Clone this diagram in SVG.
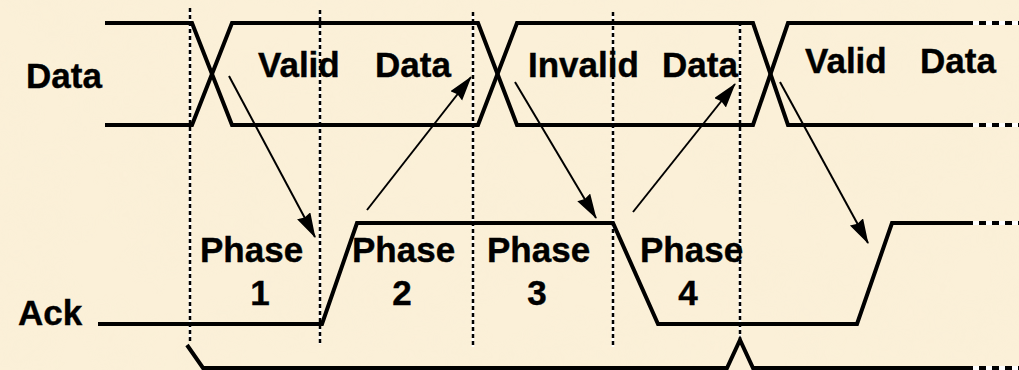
<svg xmlns="http://www.w3.org/2000/svg" width="1019" height="370" viewBox="0 0 1019 370">
  <style>
    .sig { fill: none; stroke: #000; stroke-width: 4; stroke-linejoin: miter; }
    .sigtail { fill: none; stroke: #fff; stroke-width: 4; }
    .sigdash { fill: none; stroke: #000; stroke-width: 4; stroke-dasharray: 7 6; }
    .grid { fill: none; stroke: #fff; stroke-width: 2.5; }
    .griddash { fill: none; stroke: #000; stroke-width: 2.5; stroke-dasharray: 4 3; }
    .arrow { fill: none; stroke: #000; stroke-width: 2; marker-end: url(#head); }
    .lbl { font-family: "Liberation Sans", Arial, sans-serif; font-weight: bold; font-size: 35px; fill: #000; stroke: #000; stroke-width: 0.4; }
  </style>
  <defs>
    <marker id="head" markerUnits="userSpaceOnUse" markerWidth="27" markerHeight="17" refX="24" refY="7.5" orient="auto">
      <path d="M0,0 L25,7.5 L0,15 L2,7.5 z" fill="#000"/>
    </marker>
    <filter id="parchment" x="0" y="0" width="100%" height="100%">
      <feTurbulence type="fractalNoise" baseFrequency="0.015" numOctaves="4" seed="7" result="n"/>
      <feColorMatrix in="n" type="matrix" values="0 0 0 0 0.93  0 0 0 0 0.85  0 0 0 0 0.66  0 0 0 0.5 -0.18"/>
    </filter>
  </defs>

  <!-- background -->
  <rect width="1019" height="370" fill="#FBF0D8"/>
  <rect width="1019" height="370" filter="url(#parchment)" opacity="0.55"/>

  <!-- phase boundaries -->
  <g id="boundaries">
    <path class="grid" d="M190,8 V341 M320,10 V344 M473,12 V347 M613,12 V347 M740,22 V340"/>
    <path class="griddash" d="M190,8 V341 M320,10 V344 M473,12 V347 M613,12 V347 M740,22 V340"/>
  </g>

  <!-- Data bus -->
  <g id="data-bus">
    <path class="sig" d="M105,23 H192 L232,125 H478 L517,23 H753 L788,125 H966"/>
    <path class="sig" d="M105,125 H192 L232,23 H478 L517,125 H753 L788,23 H966"/>
    <path class="sigtail" d="M966,23 H1019 M966,125 H1019"/>
    <path class="sigdash" d="M966,23 H1019 M966,125 H1019"/>
  </g>

  <!-- Ack signal -->
  <g id="ack">
    <path class="sig" d="M98,324 H322 L357,223 H613 L658,324 H857 L892,223 H966"/>
    <path class="sigtail" d="M966,223 H1019"/>
    <path class="sigdash" d="M966,223 H1019"/>
  </g>

  <!-- lower strobe -->
  <g id="strobe">
    <path class="sig" d="M187,345 L203,368 H727 L740,340 L753,368 H966"/>
    <path class="sigtail" d="M966,368 H1019"/>
    <path class="sigdash" d="M966,368 H1019"/>
  </g>

  <!-- handshake arrows -->
  <g id="connectors">
    <line class="arrow" x1="229" y1="76" x2="315" y2="237"/>
    <line class="arrow" x1="367" y1="210" x2="471" y2="77"/>
    <line class="arrow" x1="515" y1="82" x2="596" y2="218"/>
    <line class="arrow" x1="633" y1="212" x2="735" y2="84"/>
    <line class="arrow" x1="780" y1="82" x2="868" y2="243"/>
  </g>

  <!-- labels -->
  <g id="signal-names">
    <text class="lbl" x="26" y="88">Data</text>
    <text class="lbl" x="18" y="325">Ack</text>
  </g>
  <g id="data-states">
    <text class="lbl" x="258" y="77">Valid</text>
    <text class="lbl" x="375" y="77">Data</text>
    <text class="lbl" x="528" y="77">Invalid</text>
    <text class="lbl" x="662" y="77">Data</text>
    <text class="lbl" x="805" y="73">Valid</text>
    <text class="lbl" x="920" y="73">Data</text>
  </g>
  <g id="phase-1">
    <text class="lbl" x="200" y="262">Phase</text>
    <text class="lbl" x="260" y="305" text-anchor="middle">1</text>
  </g>
  <g id="phase-2">
    <text class="lbl" x="352" y="262">Phase</text>
    <text class="lbl" x="402" y="305" text-anchor="middle">2</text>
  </g>
  <g id="phase-3">
    <text class="lbl" x="487" y="262">Phase</text>
    <text class="lbl" x="537" y="305" text-anchor="middle">3</text>
  </g>
  <g id="phase-4">
    <text class="lbl" x="640" y="262">Phase</text>
    <text class="lbl" x="688" y="305" text-anchor="middle">4</text>
  </g>
</svg>
